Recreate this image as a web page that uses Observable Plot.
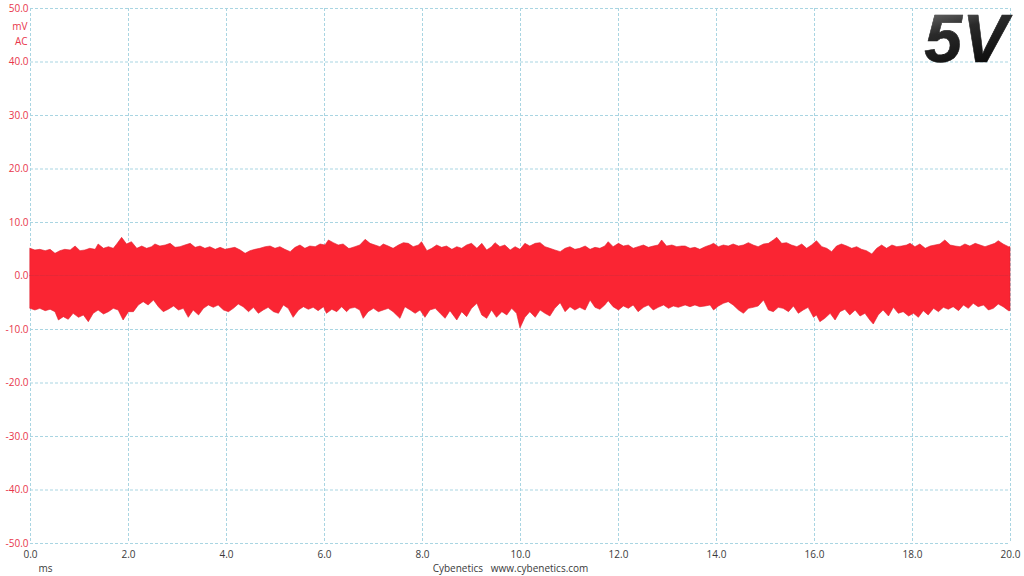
<!DOCTYPE html>
<html><head><meta charset="utf-8">
<script src="https://cdn.jsdelivr.net/npm/d3@7"></script>
<script src="https://cdn.jsdelivr.net/npm/@observablehq/plot@0.6"></script>
<style>html,body{margin:0;padding:0;background:#fff;}</style>
</head><body><div id="chart"></div>
<script>
// time ticks (ms) and voltage ticks (mV)
const xTicks = [0,2,4,6,8,10,12,14,16,18,20];
const yTicks = [-50,-40,-30,-20,-10,0,10,20,30,40,50];

// upper envelope of the AC ripple trace: [time ms, mV]
const upperEnvelope = [
[0,5.08],[0.10,4.77],[0.20,4.89],[0.31,4.64],[0.41,4.89],[0.51,4.14],[0.61,4.64],[0.71,4.89],[0.82,4.77],[0.92,5.51],
[1.02,4.64],[1.12,4.77],[1.22,5.08],[1.33,4.89],[1.39,5.89],[1.50,5.08],[1.60,5.39],[1.70,5.08],[1.77,5.89],[1.87,7.13],
[1.97,5.89],[2.07,6.32],[2.18,5.08],[2.28,5.51],[2.38,5.08],[2.48,5.39],[2.55,5.89],[2.65,5.51],[2.76,5.70],[2.86,6.01],
[2.96,5.26],[3.06,5.39],[3.16,5.70],[3.27,6.01],[3.37,5.26],[3.47,5.51],[3.57,5.08],[3.67,5.39],[3.78,4.89],[3.88,5.26],
[3.98,4.89],[4.08,5.08],[4.18,5.26],[4.29,4.77],[4.39,4.14],[4.49,4.64],[4.59,4.89],[4.69,5.08],[4.80,5.39],[4.90,5.51],
[5.00,5.08],[5.10,5.39],[5.20,4.89],[5.31,4.46],[5.41,5.26],[5.51,5.70],[5.61,5.08],[5.71,5.51],[5.82,5.39],[5.92,5.89],
[6.02,5.70],[6.09,6.64],[6.19,6.14],[6.29,5.70],[6.39,5.89],[6.50,5.08],
[6.53,5.08],[6.63,5.39],[6.73,5.70],[6.84,6.76],[6.94,6.01],[7.04,5.70],[7.14,5.39],[7.21,5.89],[7.31,5.51],[7.41,5.08],
[7.52,5.70],[7.62,6.14],[7.72,6.01],[7.82,5.39],[7.93,5.70],[7.99,6.32],[8.10,4.64],[8.20,5.08],[8.30,5.70],[8.40,5.26],
[8.50,5.51],[8.61,4.89],[8.71,5.39],[8.81,5.08],[8.91,5.70],[9.01,6.01],[9.12,5.08],[9.22,6.01],[9.32,4.77],[9.42,5.39],
[9.49,6.14],[9.59,5.39],[9.69,5.70],[9.80,4.77],[9.90,5.39],[10.00,4.89],[10.10,6.01],[10.20,5.51],[10.31,6.01],[10.41,6.14],
[10.51,5.39],[10.61,5.08],[10.71,4.77],[10.82,4.46],[10.92,5.08],[11.02,5.39],[11.12,4.89],[11.22,5.08],[11.33,5.51],[11.43,4.89],
[11.53,5.26],[11.63,5.08],[11.73,5.51],[11.80,6.32],[11.90,5.39],[12.01,6.01],[12.11,5.51],[12.21,5.70],[12.31,5.08],[12.41,5.39],
[12.52,5.70],[12.62,5.26],[12.72,5.51],[12.82,5.70],[12.89,6.64],[12.99,5.51],[13.10,5.70],[13.20,5.39],[13.30,5.51],
[13.37,5.51],[13.47,5.08],[13.57,5.26],[13.67,4.89],[13.78,5.39],[13.88,5.70],[13.95,6.01],[14.05,5.39],[14.15,5.70],[14.25,5.51],
[14.35,5.89],[14.46,5.51],[14.56,5.70],[14.66,6.14],[14.76,5.70],[14.86,5.39],[14.97,5.89],[15.07,6.01],[15.17,6.64],[15.24,7.13],
[15.34,6.01],[15.44,6.14],[15.54,5.70],[15.65,5.39],[15.75,5.89],[15.85,5.08],[15.95,5.70],[16.05,6.51],[16.16,5.39],[16.26,5.08],
[16.36,4.46],[16.46,5.51],[16.56,5.89],[16.67,5.51],[16.77,5.08],[16.87,5.39],[16.97,4.89],[17.07,4.64],[17.18,4.02],[17.28,5.08],
[17.38,5.70],[17.48,5.08],[17.59,5.70],[17.69,5.39],[17.79,5.51],[17.89,5.70],[17.96,6.01],[18.06,5.39],[18.16,5.89],[18.27,5.08],
[18.37,5.51],[18.47,5.70],[18.57,5.89],[18.67,6.64],[18.78,5.70],[18.88,5.51],[18.98,5.39],[19.08,5.89],[19.18,5.51],[19.29,6.01],
[19.39,5.70],[19.49,5.39],[19.59,5.70],[19.69,6.01],[19.76,6.51],[19.86,5.89],[19.97,5.39],[20,5.39]
];

// lower envelope of the AC ripple trace: [time ms, mV]
const lowerEnvelope = [
[0,-6.14],[0.10,-6.45],[0.20,-6.14],[0.31,-6.57],[0.41,-6.32],[0.51,-6.76],[0.58,-8.32],[0.68,-7.69],[0.78,-8.19],[0.88,-7.07],
[0.99,-7.82],[1.09,-7.38],[1.19,-8.63],[1.29,-7.07],[1.39,-6.45],[1.50,-7.20],[1.60,-6.76],[1.70,-6.14],[1.80,-6.45],[1.90,-8.32],
[2.01,-6.76],[2.11,-6.76],[2.21,-5.51],[2.31,-4.89],[2.41,-5.51],[2.52,-4.58],[2.62,-5.83],[2.72,-6.76],[2.82,-6.32],[2.93,-5.70],
[3.03,-6.45],[3.13,-6.14],[3.23,-7.82],[3.33,-6.45],[3.44,-7.38],[3.54,-6.14],[3.64,-5.51],[3.74,-5.95],[3.84,-5.51],[3.95,-6.45],
[4.05,-6.76],[4.15,-6.14],[4.25,-5.33],[4.35,-5.83],[4.46,-6.76],[4.56,-5.95],[4.66,-7.07],[4.76,-6.45],[4.86,-5.95],[4.97,-6.76],
[5.07,-7.07],[5.17,-5.51],[5.27,-6.14],[5.37,-7.82],[5.48,-6.45],[5.58,-5.83],[5.68,-6.32],[5.78,-5.95],[5.88,-6.57],[5.99,-5.83],
[6.05,-7.07],[6.16,-6.32],[6.26,-6.76],[6.36,-5.83],[6.46,-6.76],
[6.53,-6.14],[6.63,-5.95],[6.73,-6.45],[6.80,-8.01],[6.90,-6.76],[7.01,-6.14],[7.11,-6.76],[7.21,-6.45],[7.31,-6.14],[7.41,-6.76],
[7.55,-8.01],[7.65,-5.83],[7.76,-6.45],[7.86,-7.07],[7.96,-6.45],[8.06,-7.82],[8.16,-6.45],[8.27,-6.14],[8.37,-7.07],[8.47,-8.01],
[8.57,-6.57],[8.71,-8.32],[8.81,-6.76],[8.91,-7.69],[9.01,-6.14],[9.12,-5.20],[9.22,-7.38],[9.32,-8.01],[9.42,-6.45],[9.52,-7.82],
[9.63,-6.76],[9.73,-7.38],[9.83,-6.14],[9.93,-7.07],[10.00,-9.80],[10.10,-7.82],[10.20,-6.76],[10.31,-7.82],[10.41,-6.45],[10.51,-7.07],
[10.61,-7.57],[10.71,-6.14],[10.82,-5.08],[10.92,-6.76],[11.02,-5.83],[11.12,-6.45],[11.22,-5.95],[11.33,-6.45],[11.43,-4.58],[11.53,-5.95],
[11.63,-6.32],[11.73,-5.51],[11.80,-4.70],[11.90,-5.83],[12.01,-6.45],[12.11,-5.70],[12.21,-6.14],[12.31,-5.51],[12.41,-6.76],[12.52,-5.95],
[12.62,-5.51],[12.72,-6.45],[12.82,-5.95],[12.93,-5.51],[13.03,-6.14],[13.13,-5.70],[13.23,-5.95],
[13.37,-5.51],[13.47,-5.83],[13.57,-5.51],[13.67,-5.83],[13.78,-5.70],[13.88,-5.51],[13.95,-6.45],[14.05,-5.70],[14.15,-5.20],[14.25,-4.89],
[14.35,-5.51],[14.46,-6.45],[14.56,-7.07],[14.66,-6.14],[14.76,-5.95],[14.86,-5.70],[14.97,-4.58],[15.07,-6.45],[15.17,-6.76],[15.27,-5.95],
[15.37,-6.14],[15.48,-6.76],[15.58,-5.70],[15.68,-7.07],[15.78,-6.45],[15.88,-5.95],[15.99,-7.82],[16.05,-7.38],[16.12,-8.63],[16.22,-8.01],
[16.33,-7.07],[16.43,-8.32],[16.53,-6.76],[16.63,-6.32],[16.73,-7.38],[16.84,-6.45],[16.94,-7.57],[17.04,-7.07],[17.14,-8.32],[17.21,-9.07],
[17.31,-7.38],[17.41,-6.45],[17.52,-7.57],[17.62,-5.95],[17.72,-7.07],[17.82,-6.76],[17.93,-7.57],[18.03,-7.07],[18.13,-7.82],[18.23,-6.57],
[18.33,-7.38],[18.44,-6.14],[18.54,-6.76],[18.64,-5.95],[18.74,-6.32],[18.84,-5.83],[18.95,-6.57],[19.05,-5.51],[19.15,-6.14],[19.25,-5.20],
[19.35,-5.83],[19.46,-5.51],[19.56,-6.45],[19.66,-6.14],[19.76,-5.33],[19.86,-5.83],[19.97,-6.57],[20,-6.57]
];

const upper = upperEnvelope.map(([t, v]) => ({t, v}));
const lower = lowerEnvelope.map(([t, v]) => ({t, v}));

const red = "#fa2533";
const grid = "#a9d5e2";
const chart = Plot.plot({
  width: 1024, height: 576,
  marginLeft: 30, marginRight: 14, marginTop: 8, marginBottom: 33,
  style: {fontFamily: "'Open Sans', 'Noto Sans', sans-serif", fontSize: "10px", background: "#fff"},
  x: {domain: [0, 20], label: null},
  y: {domain: [-50, 50], label: null},
  marks: [
    Plot.ruleX(xTicks, {stroke: grid, strokeDasharray: "3,2", strokeWidth: 1}),
    Plot.ruleY(yTicks, {stroke: grid, strokeDasharray: "3,2", strokeWidth: 1}),
    Plot.areaY(upper, {x: "t", y1: 0, y2: "v", fill: red, stroke: "#e11f2d", strokeWidth: 0.6}),
    Plot.areaY(lower, {x: "t", y1: 0, y2: "v", fill: red, stroke: "#e11f2d", strokeWidth: 0.6}),
    Plot.axisX({ticks: xTicks, tickSize: 0, tickPadding: 7, tickFormat: d => d.toFixed(1), color: "#3a3a3a", label: null}),
    Plot.axisY({ticks: yTicks, tickSize: 0, tickPadding: 2, tickFormat: d => d.toFixed(1), color: "#e8364b", label: null}),
    Plot.text(["mV"], {frameAnchor: "top-left", dx: -3, dy: 14, textAnchor: "end", fill: "#e8364b"}),
    Plot.text(["AC"], {frameAnchor: "top-left", dx: -3, dy: 29, textAnchor: "end", fill: "#e8364b"}),
    Plot.text(["ms"], {frameAnchor: "bottom-left", dx: 8, dy: 28, fill: "#3a3a3a"}),
    Plot.text(["Cybenetics   www.cybenetics.com"], {frameAnchor: "bottom", dx: -10, dy: 28, fill: "#3a3a3a"}),
    Plot.text(["5V"], {frameAnchor: "top-right", dx: -3, dy: 5, lineAnchor: "top", textAnchor: "end",
      fontSize: 68, fontWeight: "bold", fontStyle: "italic", fontFamily: "'Liberation Sans', Arial, sans-serif",
      fill: "url(#fiveV)", stroke: "#222", strokeWidth: 0.6})
  ]
});
document.getElementById("chart").appendChild(chart);
const svg = d3.select(chart);
const defs = svg.insert("defs", ":first-child");
const g = defs.append("linearGradient").attr("id", "fiveV").attr("x1", "0").attr("y1", "0").attr("x2", "0.3").attr("y2", "1");
g.append("stop").attr("offset", "0%").attr("stop-color", "#8a8a8a");
g.append("stop").attr("offset", "45%").attr("stop-color", "#2a2a2a");
g.append("stop").attr("offset", "100%").attr("stop-color", "#0a0a0a");
</script></body></html>
